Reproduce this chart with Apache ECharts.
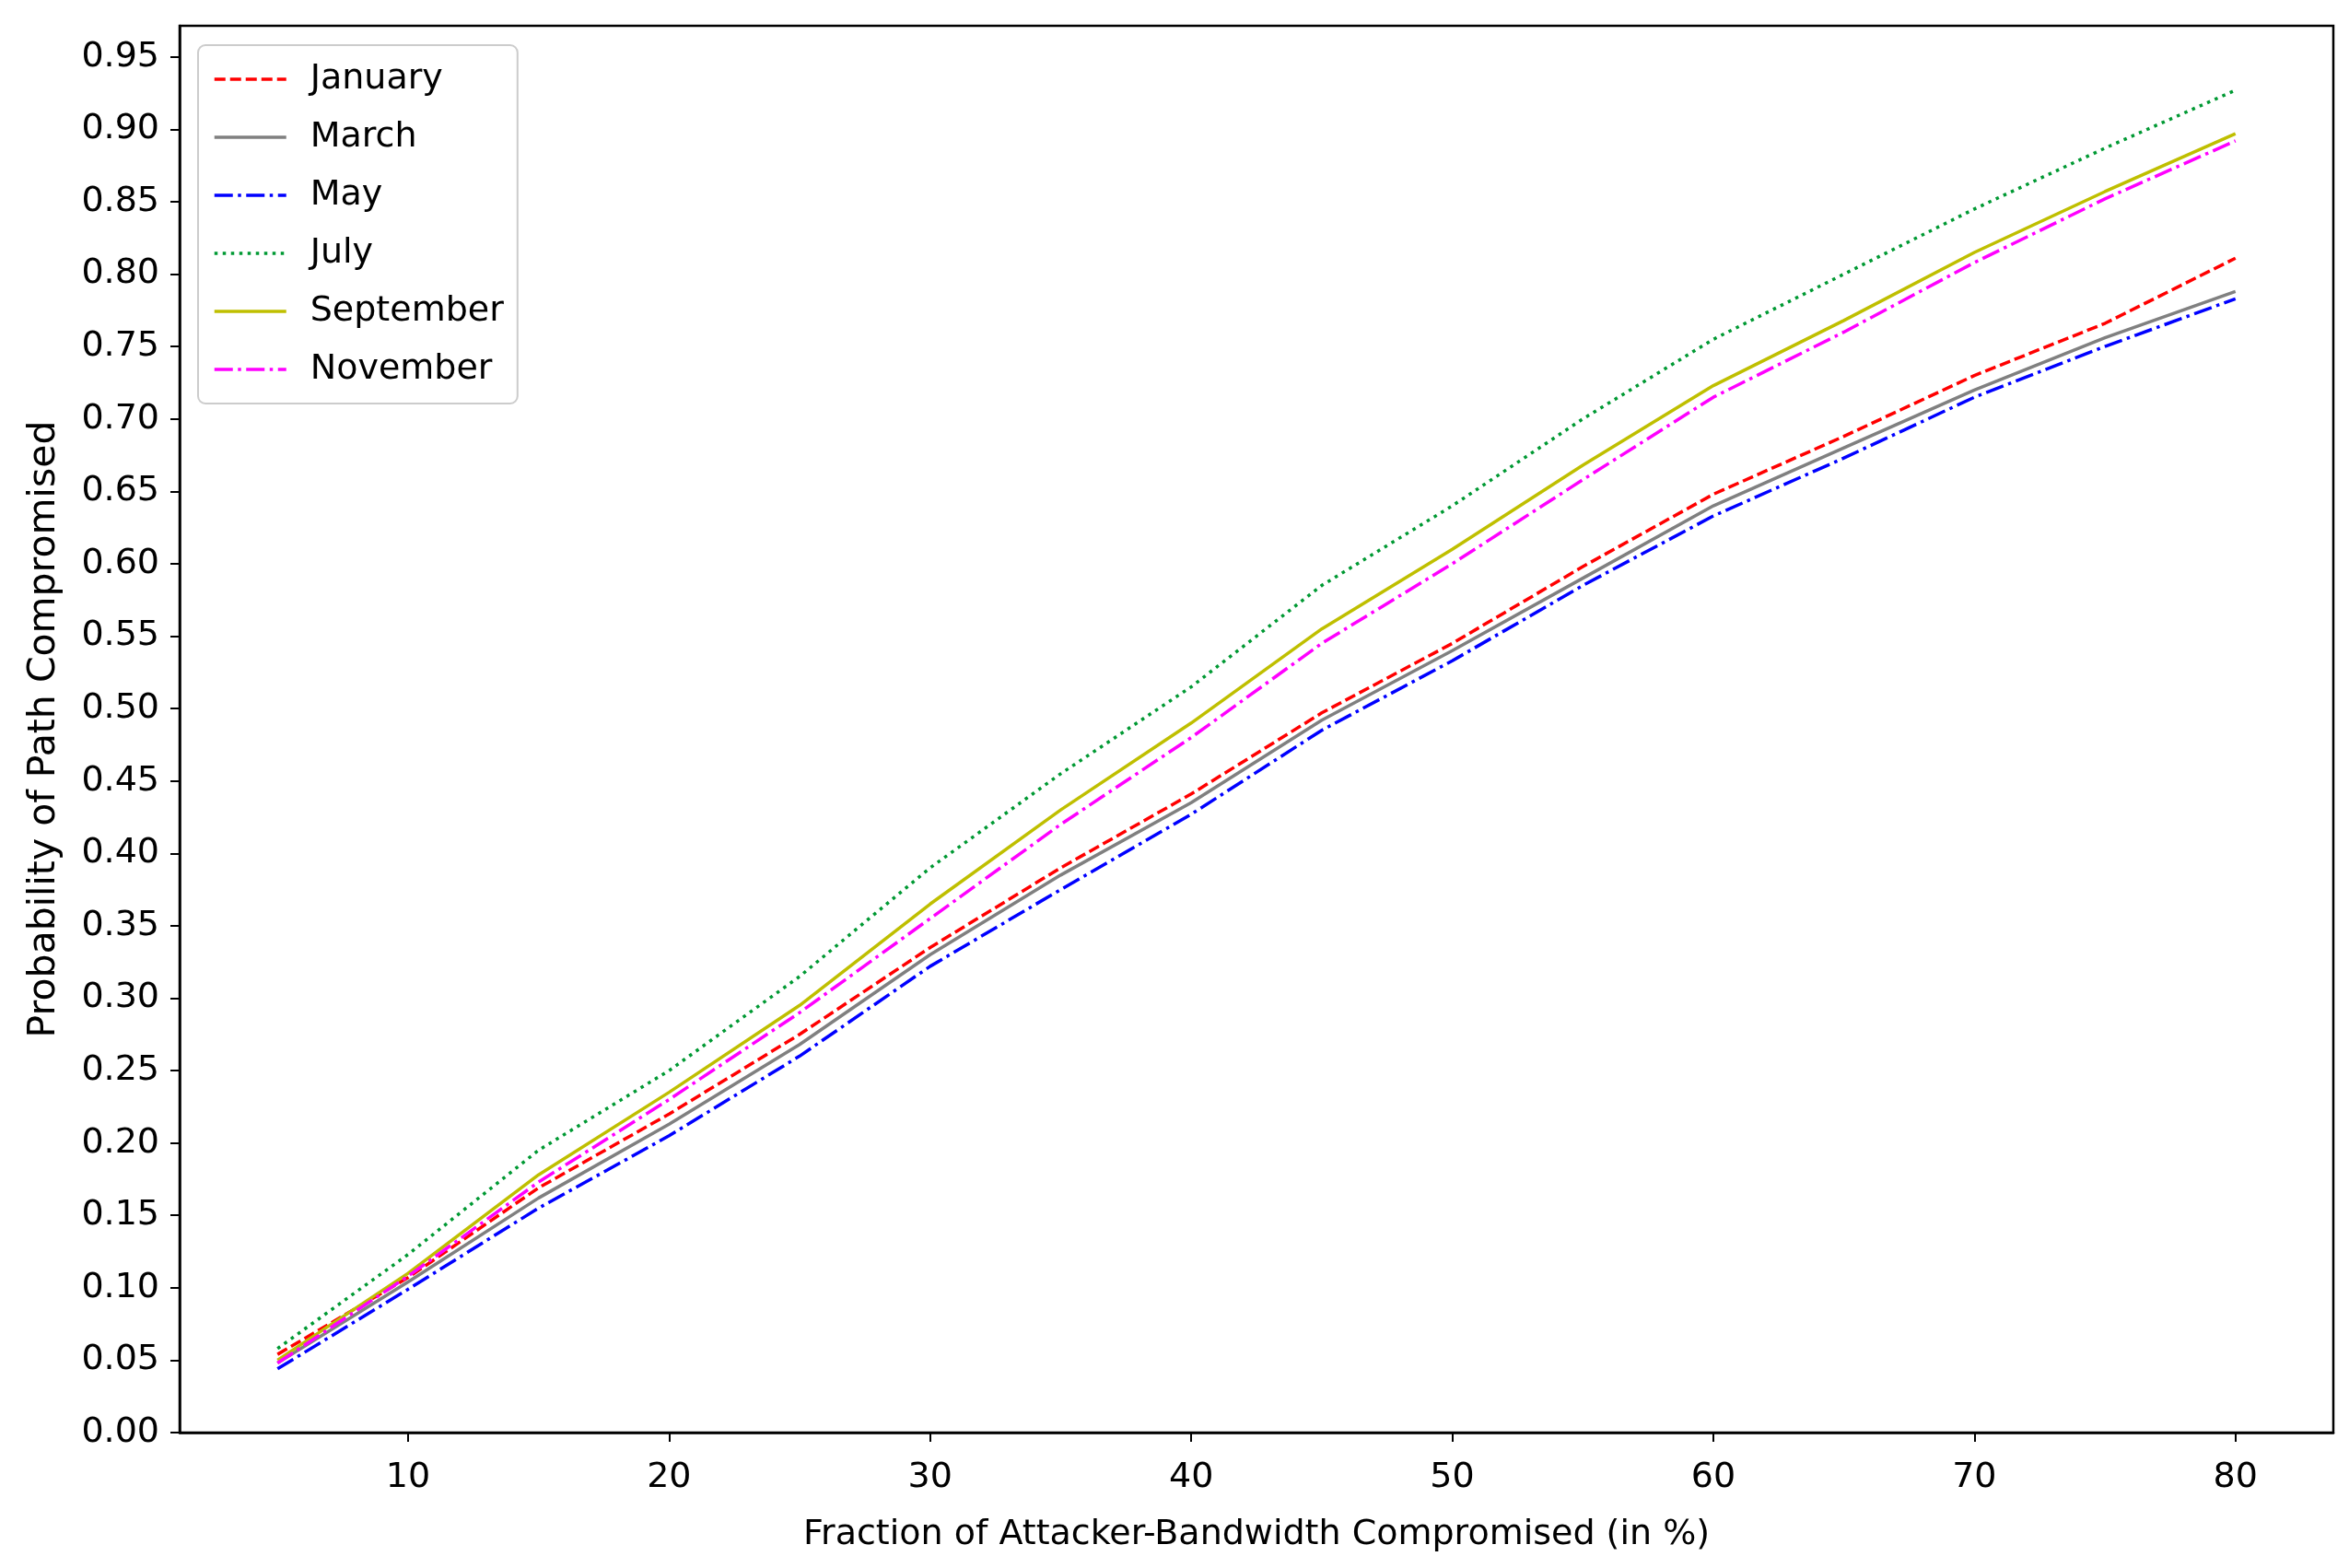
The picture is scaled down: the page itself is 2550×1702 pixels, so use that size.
<!DOCTYPE html>
<html>
<head>
<meta charset="utf-8">
<script src="https://cdn.jsdelivr.net/npm/echarts@6/dist/echarts.min.js"></script>
<style>
html,body{margin:0;padding:0;background:#fff;}
#chart{width:2550px;height:1702px;}
</style>
</head>
<body>
<div id="chart"></div>
<script>
const xValues = [5, 10, 15, 20, 25, 30, 35, 40, 45, 50, 55, 60, 65, 70, 75, 80];
const january   = [0.054, 0.107, 0.169, 0.220, 0.275, 0.335, 0.390, 0.441, 0.497, 0.545, 0.598, 0.648, 0.688, 0.730, 0.766, 0.811];
const march     = [0.048, 0.104, 0.162, 0.213, 0.268, 0.330, 0.385, 0.435, 0.492, 0.540, 0.590, 0.640, 0.680, 0.720, 0.756, 0.788];
const may       = [0.044, 0.099, 0.155, 0.205, 0.260, 0.322, 0.375, 0.427, 0.485, 0.533, 0.585, 0.633, 0.673, 0.715, 0.750, 0.783];
const july      = [0.058, 0.123, 0.195, 0.250, 0.315, 0.390, 0.455, 0.515, 0.585, 0.640, 0.700, 0.755, 0.800, 0.845, 0.887, 0.927];
const september = [0.050, 0.110, 0.178, 0.235, 0.295, 0.365, 0.430, 0.490, 0.555, 0.610, 0.668, 0.723, 0.768, 0.815, 0.857, 0.897];
const november  = [0.048, 0.108, 0.173, 0.230, 0.290, 0.355, 0.420, 0.480, 0.545, 0.600, 0.658, 0.715, 0.760, 0.808, 0.852, 0.892];
const seriesNames = ['January', 'March', 'May', 'July', 'September', 'November'];
const xTicks = [10, 20, 30, 40, 50, 60, 70, 80];
const yTicks = [0, 0.05, 0.10, 0.15, 0.20, 0.25, 0.30, 0.35, 0.40, 0.45, 0.50, 0.55, 0.60, 0.65, 0.70, 0.75, 0.80, 0.85, 0.90, 0.95];
const xAxisTitle = 'Fraction of Attacker-Bandwidth Compromised (in %)';
const yAxisTitle = 'Probability of Path Compromised';

const FONT = 'DejaVu Sans, sans-serif';
const FS = 38;
const values = [january, march, may, july, september, november];
const styles = [
  {color: '#ff0000', type: [12, 5]},
  {color: '#808080', type: 'solid'},
  {color: '#0000ff', type: [20, 5.5, 3.5, 5.5]},
  {color: '#009933', type: [3.5, 5.5]},
  {color: '#bfbf00', type: 'solid'},
  {color: '#ff00ff', type: [20, 5.5, 3.5, 5.5]}
];

const series = seriesNames.map((name, i) => ({
  name: name,
  type: 'line',
  symbol: 'none',
  data: xValues.map((x, j) => [x, values[i][j]]),
  lineStyle: {color: styles[i].color, width: 3.5, type: styles[i].type, cap: 'butt'},
  itemStyle: {color: styles[i].color},
  z: 3
}));

const chart = echarts.init(document.getElementById('chart'), null, {renderer: 'canvas'});
chart.setOption({
  backgroundColor: '#ffffff',
  animation: false,
  grid: {left: 195, right: 17, top: 28, bottom: 147, show: true, borderColor: '#000', borderWidth: 2.5, backgroundColor: 'transparent'},
  legend: {
    orient: 'vertical',
    left: 215, top: 49,
    data: seriesNames,
    itemWidth: 78, itemHeight: 20, itemGap: 23,
    padding: [17, 15, 17, 16],
    backgroundColor: 'rgba(255,255,255,0.8)',
    borderColor: '#cccccc', borderWidth: 2, borderRadius: 8,
    itemStyle: {opacity: 0},
    lineStyle: {width: 3.5},
    textStyle: {fontFamily: FONT, fontSize: FS, color: '#000', lineHeight: 40, padding: [0, 0, 0, 21]}
  },
  xAxis: {
    type: 'value', min: 1.25, max: 83.75,
    name: xAxisTitle, nameLocation: 'middle', nameGap: 92,
    nameTextStyle: {fontFamily: FONT, fontSize: FS, color: '#000'},
    axisLine: {show: true, lineStyle: {color: '#000', width: 2.5}},
    axisTick: {show: true, length: 10, lineStyle: {color: '#000', width: 2}, customValues: xTicks},
    axisLabel: {fontFamily: FONT, fontSize: FS, color: '#000', margin: 30, customValues: xTicks, formatter: v => String(v)},
    splitLine: {show: false}
  },
  yAxis: {
    type: 'value', min: 0, max: 0.9715,
    name: yAxisTitle, nameLocation: 'middle', nameGap: 126, nameRotate: 90,
    nameTextStyle: {fontFamily: FONT, fontSize: 41, color: '#000'},
    axisLine: {show: true, lineStyle: {color: '#000', width: 2.5}},
    axisTick: {show: true, length: 10, lineStyle: {color: '#000', width: 2}, customValues: yTicks},
    axisLabel: {fontFamily: FONT, fontSize: FS, color: '#000', margin: 22, customValues: yTicks, formatter: v => v.toFixed(2)},
    splitLine: {show: false}
  },
  series: series
});
</script>
</body>
</html>
